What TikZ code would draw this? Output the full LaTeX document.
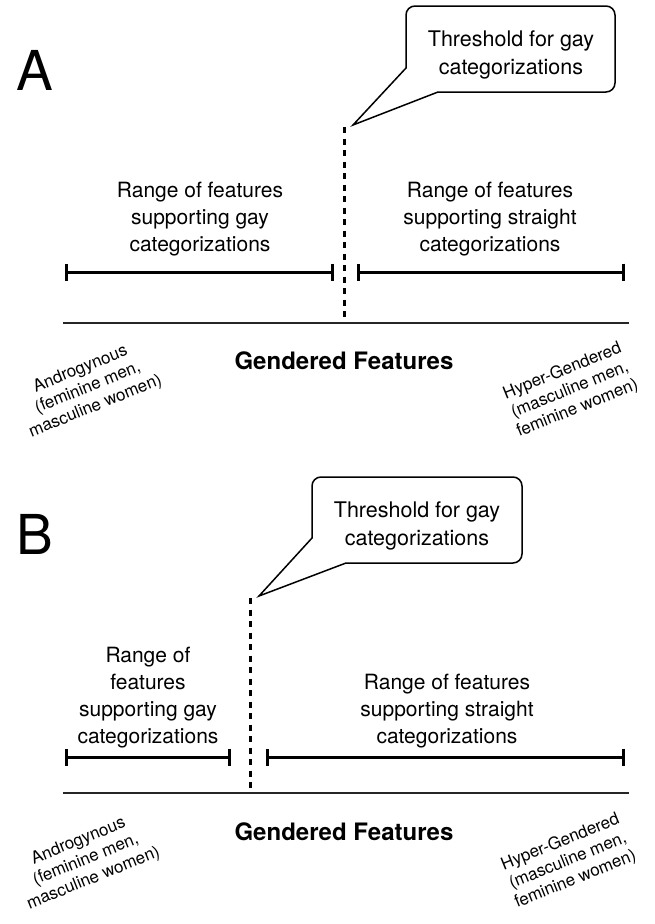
\documentclass[tikz,border=0pt]{standalone}
\usepackage{fontspec}
\setmainfont{TeX Gyre Heros}
\usetikzlibrary{arrows.meta,calc}
\tikzset{
  panelletter/.style={anchor=base west,inner sep=0pt,font=\fontsize{55}{60}\selectfont},
  rangetext/.style={align=center,inner sep=0pt,font=\fontsize{21}{27}\selectfont},
  calltext/.style={align=center,inner sep=0pt,font=\fontsize{21.5}{28}\selectfont},
  axistitle/.style={inner sep=0pt,font=\bfseries\fontsize{24}{28}\selectfont},
  endtext/.style={align=center,inner sep=0pt,font=\fontsize{17}{20}\selectfont},
  rangebar/.style={line width=3pt,{Bar[width=17pt,line width=3pt]}-{Bar[width=17pt,line width=3pt]}},
  axisline/.style={line width=2pt,draw=black!85},
  thresh/.style={line width=3pt,dash pattern=on 6pt off 5.5pt},
  callout/.style={line width=1.5pt,line join=miter,fill=white},
}
\begin{document}
\begin{tikzpicture}[x=1pt,y=-1pt]
\useasboundingbox (0,0) rectangle (655,924);

% ---------------- Panel A ----------------
\node[panelletter] (labA) at (16,90) {A};
% callout A
\coordinate (Anw) at (406,6);
\coordinate (Ase) at (615,92);
\coordinate (AL) at (406,68);
\coordinate (ABt) at (438,92);
\coordinate (Atip) at (353,125);
\draw[callout] (AL) -- ($(Anw)+(0,9)$) arc[start angle=180,end angle=270,radius=9]
  -- ($(Anw -| Ase)+(-9,0)$) arc[start angle=270,end angle=360,radius=9]
  -- ($(Ase)+(0,-9)$) arc[start angle=0,end angle=90,radius=9]
  -- (ABt) -- (Atip) -- cycle;
\node[calltext] (callA) at (511,55) {Threshold for gay\\categorizations};
% threshold line A
\coordinate (AthrTop) at (344,127);
\coordinate (AthrBot) at (344,319);
\draw[thresh] (AthrTop) -- (AthrBot);
% ranges A
\node[rangetext] (gayA) at (200,219) {Range of features\\supporting gay\\categorizations};
\node[rangetext] (strA) at (490,219) {Range of features\\supporting straight\\categorizations};
\coordinate (AgL) at (65,272);
\coordinate (AgR) at (334,272);
\coordinate (AsL) at (357,272);
\coordinate (AsR) at (625,272);
\draw[rangebar] (AgL) -- (AgR);
\draw[rangebar] (AsL) -- (AsR);
% axis A
\coordinate (AaxL) at (63,323);
\coordinate (AaxR) at (629,323);
\draw[axisline] (AaxL) -- (AaxR);
\node[axistitle] (gfA) at (344,361) {Gendered Features};
\node[endtext,rotate=22] (andA) at (88,388) {Androgynous\\(feminine men,\\masculine women)};
\node[endtext,rotate=22] (hypA) at (570,390) {Hyper-Gendered\\(masculine men,\\feminine women)};

% ---------------- Panel B ----------------
\node[panelletter] (labB) at (16,554) {B};
\coordinate (Bnw) at (312,477);
\coordinate (Bse) at (522,563);
\coordinate (BL) at (312,538);
\coordinate (BBt) at (346,563);
\coordinate (Btip) at (259,596);
\draw[callout] (BL) -- ($(Bnw)+(0,9)$) arc[start angle=180,end angle=270,radius=9]
  -- ($(Bnw -| Bse)+(-9,0)$) arc[start angle=270,end angle=360,radius=9]
  -- ($(Bse)+(0,-9)$) arc[start angle=0,end angle=90,radius=9]
  -- (BBt) -- (Btip) -- cycle;
\node[calltext] (callB) at (417,526) {Threshold for gay\\categorizations};
\coordinate (BthrTop) at (250,598);
\coordinate (BthrBot) at (250,790);
\draw[thresh] (BthrTop) -- (BthrBot);
\node[rangetext] (gayB) at (148,698) {Range of\\features\\supporting gay\\categorizations};
\node[rangetext] (strB) at (447,711) {Range of features\\supporting straight\\categorizations};
\coordinate (BgL) at (65,757);
\coordinate (BgR) at (231,757);
\coordinate (BsL) at (266,757);
\coordinate (BsR) at (625,757);
\draw[rangebar] (BgL) -- (BgR);
\draw[rangebar] (BsL) -- (BsR);
\coordinate (BaxL) at (63,793);
\coordinate (BaxR) at (629,793);
\draw[axisline] (BaxL) -- (BaxR);
\node[axistitle] (gfB) at (344,832) {Gendered Features};
\node[endtext,rotate=22] (andB) at (86,860) {Androgynous\\(feminine men,\\masculine women)};
\node[endtext,rotate=22] (hypB) at (568,861) {Hyper-Gendered\\(masculine men,\\feminine women)};
\end{tikzpicture}
\end{document}
